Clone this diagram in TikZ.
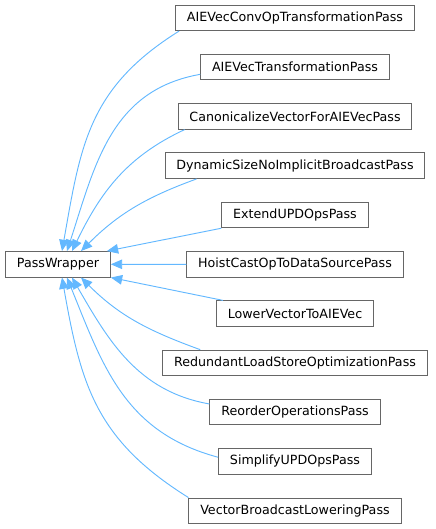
\documentclass[tikz,border=0pt]{standalone}
\usepackage{fontspec}
\setmainfont{DejaVu Sans}
\usetikzlibrary{calc,arrows.meta}
\definecolor{EdgeBlue}{RGB}{99,184,255}
\definecolor{BoxGray}{RGB}{102,102,102}
\tikzset{
  passbox/.style={draw=BoxGray,fill=white,line width=0.75pt,inner xsep=8.5pt,
    inner ysep=0pt,minimum height=19.1pt,font=\fontsize{9.5}{11}\selectfont},
  inhedge/.style={draw=EdgeBlue,line width=0.7pt,-{Triangle[length=8.5pt,width=7.2pt]}},
}
\begin{document}
\begin{tikzpicture}[x=0.75pt,y=0.75pt]
  \useasboundingbox (0,0) rectangle (436,-529);
  \node[passbox] (pw) at (58,-264.3) {PassWrapper};

  \foreach \n/\t [count=\i] in {conv/AIEVecConvOpTransformationPass,
      trans/AIEVecTransformationPass,canon/CanonicalizeVectorForAIEVecPass,
      dyn/DynamicSizeNoImplicitBroadcastPass,ext/ExtendUPDOpsPass,
      hoist/HoistCastOpToDataSourcePass,lower/LowerVectorToAIEVec,
      redund/RedundantLoadStoreOptimizationPass,reorder/ReorderOperationsPass,
      simpl/SimplifyUPDOpsPass,bcast/VectorBroadcastLoweringPass}
    \node[passbox] (\n) at (295,{-17.8-49.3*(\i-1)}) {\t};

  % upper fan
  \draw[inhedge] ($(conv.south west)+(4,0)$) to[out=212,in=80,looseness=1.1] ($(pw.north)+(4,0)$);
  \draw[inhedge] ($(trans.south west)+(0,6)$) to[out=190,in=72,looseness=1.05] ($(pw.north)+(9,0)$);
  \draw[inhedge] ($(canon.south west)+(7,0)$) to[out=205,in=64] ($(pw.north)+(14,0)$);
  \draw[inhedge] ($(dyn.south west)+(32,0)$) to[out=200,in=45] ($(pw.north)+(23,0)$);
  \draw[inhedge] (ext.south west) -- ($(pw.north east)+(-4,0)$);
  \draw[inhedge] (hoist.west) -- (pw.east);
  \draw[inhedge] ($(lower.north west)+(7,0)$) -- (pw.south east);
  % lower fan
  \draw[inhedge] ($(redund.north west)+(38,0)$) to[out=160,in=-45] ($(pw.south)+(23,0)$);
  \draw[inhedge] ($(reorder.north west)+(0,-5)$) to[out=170,in=-60] ($(pw.south)+(14,0)$);
  \draw[inhedge] ($(simpl.north west)+(0,-9)$) to[out=165,in=-68,looseness=1.05] ($(pw.south)+(9,0)$);
  \draw[inhedge] (bcast.north west) to[out=148,in=-80,looseness=1.1] ($(pw.south)+(4,0)$);
\end{tikzpicture}
\end{document}
